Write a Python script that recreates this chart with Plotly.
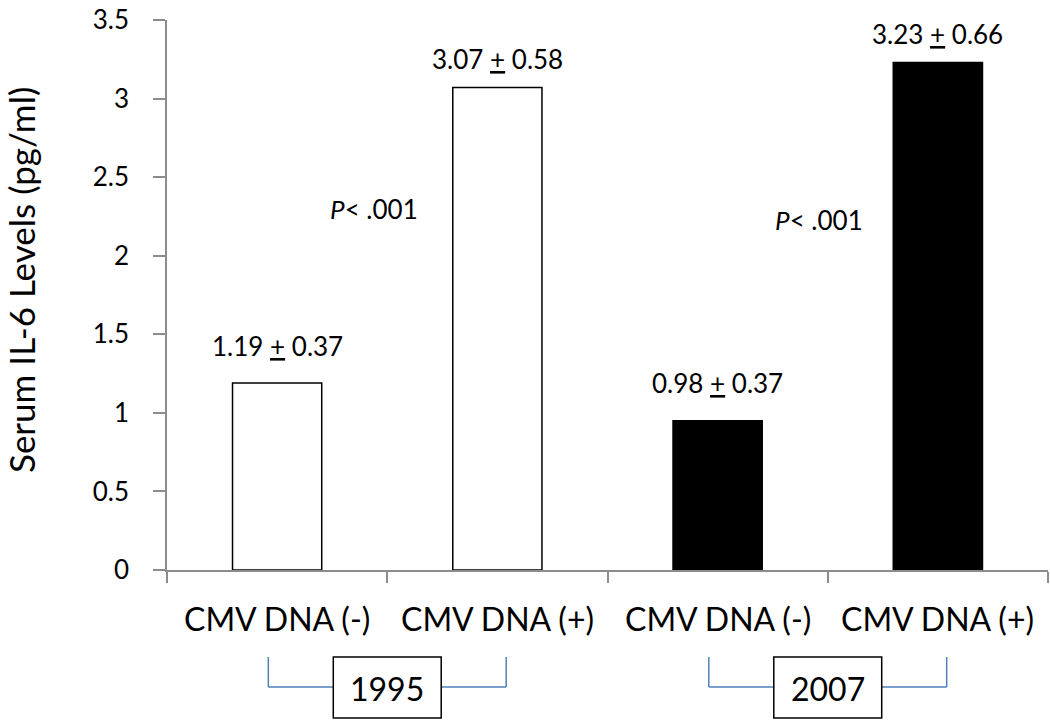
import plotly.graph_objects as go

# ---- data ----
categories = ["CMV DNA (-)", "CMV DNA (+)", "CMV DNA (-)", "CMV DNA (+)"]
values = [1.19, 3.07, 0.95, 3.23]
value_labels = ["1.19 <u>+</u> 0.37", "3.07 <u>+</u> 0.58", "0.98 <u>+</u> 0.37", "3.23 <u>+</u> 0.66"]
years = ["1995", "2007"]
p_texts = ["<i>P</i>< .001", "<i>P</i>< .001"]
y_ticks = [0, 0.5, 1, 1.5, 2, 2.5, 3, 3.5]
y_ticktext = ["0", "0.5", "1", "1.5", "2", "2.5", "3", "3.5"]

FONT = "Lato"
W, H = 1050, 720
ML, MR, MT, MB = 167, 2, 20, 150
plot_h = H - MT - MB

xpos = [i + 0.5 for i in range(len(categories))]
fills = ["white", "white", "black", "black"]

fig = go.Figure()
fig.add_trace(go.Bar(
    x=xpos, y=values, width=0.405,
    marker=dict(color=fills, line=dict(color="black", width=1.5)),
    showlegend=False, hoverinfo="skip",
))

def py(pix):
    # pixel y (from top of page) -> paper y
    return (H - MB - pix) / plot_h

annotations = []
shifts = [37, 29, 38, 28]
for x, v, t, s in zip(xpos, values, value_labels, shifts):
    annotations.append(dict(x=x, y=v, xref="x", yref="y", text=t, showarrow=False,
                            xanchor="center", yanchor="middle",
                            yshift=s, font=dict(family=FONT, size=26, color="black")))
for x, t in zip(xpos, categories):
    annotations.append(dict(x=x, y=0, xref="x", yref="y", text=t, showarrow=False,
                            xanchor="center", yanchor="middle",
                            yshift=-48, font=dict(family=FONT, size=32, color="black")))
# P-values
p_pos = [(0.94, 2.30), (2.96, 2.23)]
for (x, y), t in zip(p_pos, p_texts):
    annotations.append(dict(x=x, y=y, xref="x", yref="y", text=t, showarrow=False,
                            xanchor="center", yanchor="middle",
                            font=dict(family=FONT, size=26, color="black")))

# y axis title
annotations.append(dict(x=(21 - ML) / (W - ML - MR), y=py(280), xref="paper", yref="paper",
                        xanchor="center", yanchor="middle",
                        text="Serum IL-6 Levels (pg/ml)", showarrow=False, textangle=-90,
                        font=dict(family=FONT, size=35, color="black")))

shapes = []
bracket_color = "#4f81bd"
for gi, yr in enumerate(years):
    c = 2 * gi + 1.0
    x0, x1 = c - 0.54, c + 0.54
    bx0, bx1 = c - 0.245, c + 0.245
    ytop, ymid = py(657), py(687)
    for xs in (x0, x1):
        shapes.append(dict(type="line", xref="x", yref="paper", x0=xs, x1=xs, y0=ytop, y1=ymid,
                           line=dict(color=bracket_color, width=1.5)))
    shapes.append(dict(type="line", xref="x", yref="paper", x0=x0, x1=bx0, y0=ymid, y1=ymid,
                       line=dict(color=bracket_color, width=1.5)))
    shapes.append(dict(type="line", xref="x", yref="paper", x0=bx1, x1=x1, y0=ymid, y1=ymid,
                       line=dict(color=bracket_color, width=1.5)))
    shapes.append(dict(type="rect", xref="x", yref="paper", x0=bx0, x1=bx1, y0=py(657), y1=py(718),
                       line=dict(color="black", width=1.5), fillcolor="white"))
    annotations.append(dict(x=c, y=py(688), xref="x", yref="paper", text=yr, showarrow=False,
                            xanchor="center", yanchor="middle",
                            font=dict(family=FONT, size=32, color="black")))

fig.update_layout(
    width=W, height=H,
    margin=dict(l=ML, r=MR, t=MT, b=MB, autoexpand=False),
    paper_bgcolor="white", plot_bgcolor="white",
    font=dict(family=FONT, color="black"),
    xaxis=dict(range=[0, 4], showgrid=False, zeroline=False, automargin=False,
               showline=True, linecolor="#8c8c8c", linewidth=1.5,
               tickvals=[0, 1, 2, 3, 4], ticktext=["", "", "", "", ""],
               ticks="outside", ticklen=11, tickcolor="#8c8c8c", tickwidth=1.5),
    yaxis=dict(range=[0, 3.5], showgrid=False, zeroline=False, automargin=False,
               showline=True, linecolor="#8c8c8c", linewidth=1.5,
               tickvals=y_ticks, ticktext=y_ticktext,
               ticks="outside", ticklen=12, tickcolor="#8c8c8c", tickwidth=1.5,
               ticklabelstandoff=19, ticklabeloverflow="allow",
               tickfont=dict(family=FONT, size=26, color="black")),
    annotations=annotations, shapes=shapes,
)

fig.write_html("out.html", config={"displayModeBar": False},
               post_script="document.body.style.margin='0';document.body.style.overflow='hidden';")
